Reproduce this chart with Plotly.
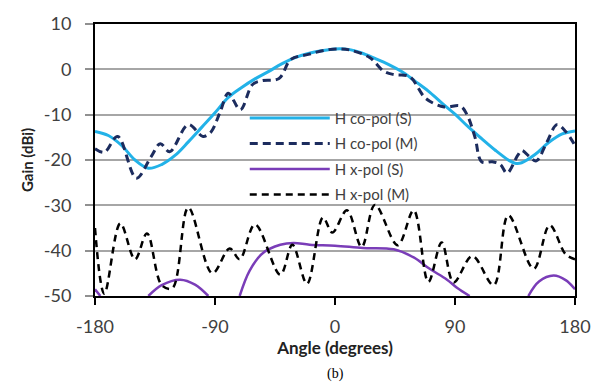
import plotly.graph_objects as go

# H co-pol (S)
copol_s_angle = [-180, -170, -160, -150, -140, -130, -120, -110, -100, -90, -80, -70, -60, -50, -40, -30, -20, -10, 0,
                 10, 20, 30, 40, 50, 60, 70, 80, 90, 100, 110, 120, 130, 135, 140, 150, 160, 170, 180]
copol_s_gain = [-13.7, -14.6, -16.8, -20.0, -21.8, -21.0, -19.0, -16.0, -12.8, -9.6, -6.2, -4.0, -2.1, -0.5, 1.2, 2.6, 3.5,
                4.1, 4.5, 4.4, 3.6, 2.4, 1.1, -0.5, -2.6, -4.8, -7.4, -9.9, -12.7, -15.3, -17.8, -20.0, -20.7, -20.6,
                -18.8, -16.2, -14.3, -13.6]

# H co-pol (M)
copol_m_angle = [-180, -173, -163, -149, -138, -131, -124, -110, -99, -93, -86, -80, -71, -62, -55, -42, -33, -20, -6, 4,
                 12, 26, 37, 45, 56, 68, 82, 94, 99, 105, 110, 118, 124, 129, 137, 140, 146, 151, 159, 166.5, 173, 180]
copol_m_gain = [-17.5, -18.3, -14.8, -24.0, -19.3, -16.4, -18.2, -12.2, -14.8, -13.8, -9.3, -5.3, -8.9, -3.4, -2.5, -2.0,
                2.2, 3.3, 4.3, 4.5, 4.2, 2.6, -0.5, -1.2, -1.6, -6.4, -8.3, -8.1, -10.0, -15.0, -20.4, -20.4, -21.0,
                -22.9, -19.0, -17.9, -19.3, -20.2, -16.0, -12.2, -13.7, -16.8]

# H x-pol (S) (segments below -50 dBi are off the axis)
xpol_s_angle = [-180, -176, None, -140, -130, -116, -105, -95, None, -71.5, -64, -54, -41, -31, -19, 0, 21, 44, 59, 71,
                84, 92, 101, None, 145, 153, 164, 173, 180]
xpol_s_gain = [-48.5, -50, None, -50, -47.6, -46.4, -47.5, -50, None, -50, -44.4, -40.5, -38.7, -38.3, -38.7, -38.9,
               -39.4, -39.7, -41.5, -44.0, -46.4, -48.3, -50, None, -50, -46.8, -45.5, -46.5, -48.5]

# H x-pol (M)
xpol_m_angle = [-180, -173, -161, -150, -141, -130, -122, -110, -92, -79, -71.5, -60, -41, -32, -21, -9, -2, 9, 20, 30,
                47, 59, 70, 80, 89, 103, 119, 130, 149, 161, 173, 180]
xpol_m_gain = [-35.0, -49.5, -34.0, -41.9, -36.2, -47.6, -48.3, -30.5, -45.0, -39.5, -41.9, -34.2, -45.3, -38.7, -47.3,
               -32.7, -36.0, -31.1, -39.2, -29.9, -38.8, -31.1, -46.9, -38.2, -47.0, -41.2, -47.6, -32.2, -44.0,
               -34.4, -40.8, -41.9]

x_ticks = [-180, -90, 0, 90, 180]
y_ticks = [-50, -40, -30, -20, -10, 0, 10]

fig = go.Figure()
fig.add_trace(go.Scatter(x=copol_s_angle, y=copol_s_gain, mode="lines", name="H co-pol (S)",
                         line=dict(color="#22B2E8", width=3, shape="spline"), legendgroup="a"))
fig.add_trace(go.Scatter(x=copol_m_angle, y=copol_m_gain, mode="lines", name="H co-pol (M)",
                         line=dict(color="#1C2C5E", width=3, dash="8px,5px", shape="spline"), legendgroup="b"))
fig.add_trace(go.Scatter(x=xpol_s_angle, y=xpol_s_gain, mode="lines", name="H x-pol (S)",
                         line=dict(color="#7A3DB8", width=2.5, shape="spline"), connectgaps=False, legendgroup="c"))
fig.add_trace(go.Scatter(x=xpol_m_angle, y=xpol_m_gain, mode="lines", name="H x-pol (M)",
                         line=dict(color="#000000", width=2.5, dash="7px,5px", shape="spline"), legendgroup="d"))

fig.update_layout(
    width=603, height=385,
    margin=dict(l=95, r=28, t=17, b=89),
    paper_bgcolor="white", plot_bgcolor="white",
    font=dict(family="Lato", color="#404040", size=18),
    showlegend=True,
    legend=dict(x=0.312, y=0.714, xanchor="left", yanchor="top", bgcolor="rgba(0,0,0,0)",
                font=dict(size=15, color="#404040"), itemwidth=80, tracegroupgap=3),
    xaxis=dict(range=[-180, 180], tickvals=x_ticks, ticktext=[str(v) for v in x_ticks],
               showgrid=False, zeroline=False, showline=True, linecolor="black", linewidth=2, mirror=True,
               ticks="outside", ticklen=7, tickwidth=2, tickcolor="black", ticklabelstandoff=6,
               title=dict(text="<b>Angle (degrees)</b>", font=dict(size=17, color="#222222"), standoff=7)),
    yaxis=dict(range=[-50, 10], tickvals=y_ticks, ticktext=[str(v) for v in y_ticks],
               showgrid=True, gridcolor="#A6A6A6", gridwidth=1.5, zeroline=False,
               showline=True, linecolor="black", linewidth=2, mirror=True,
               ticks="outside", ticklen=8, tickwidth=1.5, tickcolor="#909090", ticklabelstandoff=10,
               title=dict(text="<b>Gain (dBi)</b>", font=dict(size=15, color="#222222"), standoff=7)),
    annotations=[dict(text="(b)", x=0.5, xref="paper", y=-0.285, yref="paper", showarrow=False,
                      font=dict(family="Liberation Serif", size=14, color="black"), yanchor="middle")],
)

# remove the browser's default 8px body margin so the figure sits at the window's top-left corner
fig.write_html("out.html", config={"displayModeBar": False},
               post_script="document.body.style.margin='0px';")
